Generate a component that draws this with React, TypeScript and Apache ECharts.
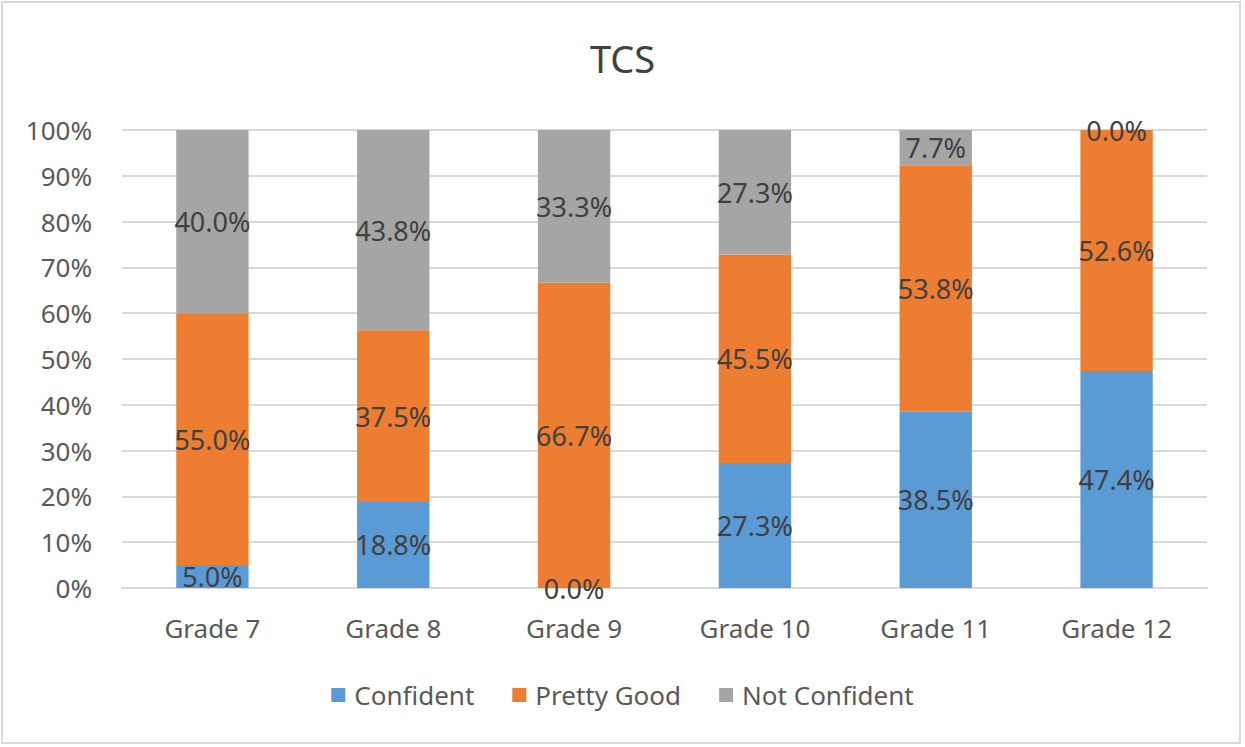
import React, { useEffect, useRef } from "react";
import * as echarts from "echarts";

const categories = ["Grade 7", "Grade 8", "Grade 9", "Grade 10", "Grade 11", "Grade 12"];
const confident = [5.0, 18.8, 0.0, 27.3, 38.5, 47.4];
const prettyGood = [55.0, 37.5, 66.7, 45.5, 53.8, 52.6];
const notConfident = [40.0, 43.8, 33.3, 27.3, 7.7, 0.0];
const seriesNames = ["Confident", "Pretty Good", "Not Confident"];
const colors = ["#5B9BD5", "#ED7D31", "#A5A5A5"];

const FONT = "Noto Sans";

export default function App() {
  const ref = useRef<HTMLDivElement>(null);
  useEffect(() => {
    const chart = echarts.init(ref.current!, null, { renderer: "svg" });
    const label = {
      show: true,
      position: "inside",
      color: "#404040",
      fontFamily: FONT,
      fontSize: 27,
      formatter: (p: any) => p.value.toFixed(1) + "%",
    };
    const mk = (name: string, data: number[], color: string) => ({
      name,
      type: "bar",
      stack: "total",
      data,
      barWidth: "40%",
      itemStyle: { color },
      label,
    });
    chart.setOption({
      animation: false,
      backgroundColor: "#ffffff",
      title: {
        text: "TCS",
        left: "center",
        top: 34,
        textStyle: { fontFamily: FONT, fontSize: 38, fontWeight: "normal", color: "#404040" },
      },
      graphic: [
        {
          type: "rect",
          shape: { x: 2, y: 2, width: 1238, height: 741 },
          style: { fill: "none", stroke: "#d9d9d9", lineWidth: 2 },
          silent: true,
        },
      ],
      legend: {
        top: 677,
        left: "center",
        itemWidth: 14,
        itemHeight: 14,
        itemGap: 38,
        icon: "rect",
        textStyle: { fontFamily: FONT, fontSize: 26, color: "#595959", padding: [0, 0, 0, 4] },
        data: seriesNames,
      },
      grid: { left: 122, right: 38, top: 130, bottom: 159 },
      xAxis: {
        type: "category",
        data: categories,
        axisLine: { lineStyle: { color: "#d9d9d9", width: 2 } },
        axisTick: { show: false },
        axisLabel: { fontFamily: FONT, fontSize: 26, color: "#595959", margin: 27 },
      },
      yAxis: {
        type: "value",
        min: 0,
        max: 100,
        interval: 10,
        axisLine: { show: false },
        axisTick: { show: false },
        splitLine: { lineStyle: { color: "#d9d9d9", width: 2 } },
        axisLabel: {
          fontFamily: FONT,
          fontSize: 26,
          color: "#595959",
          margin: 30,
          formatter: (v: number) => v + "%",
        },
      },
      series: [
        mk(seriesNames[0], confident, colors[0]),
        mk(seriesNames[1], prettyGood, colors[1]),
        mk(seriesNames[2], notConfident, colors[2]),
      ],
    });
    return () => chart.dispose();
  }, []);
  return (
    <div
      ref={ref}
      style={{ position: "fixed", left: 0, top: 0, width: 1245, height: 747, background: "#fff" }}
    />
  );
}
